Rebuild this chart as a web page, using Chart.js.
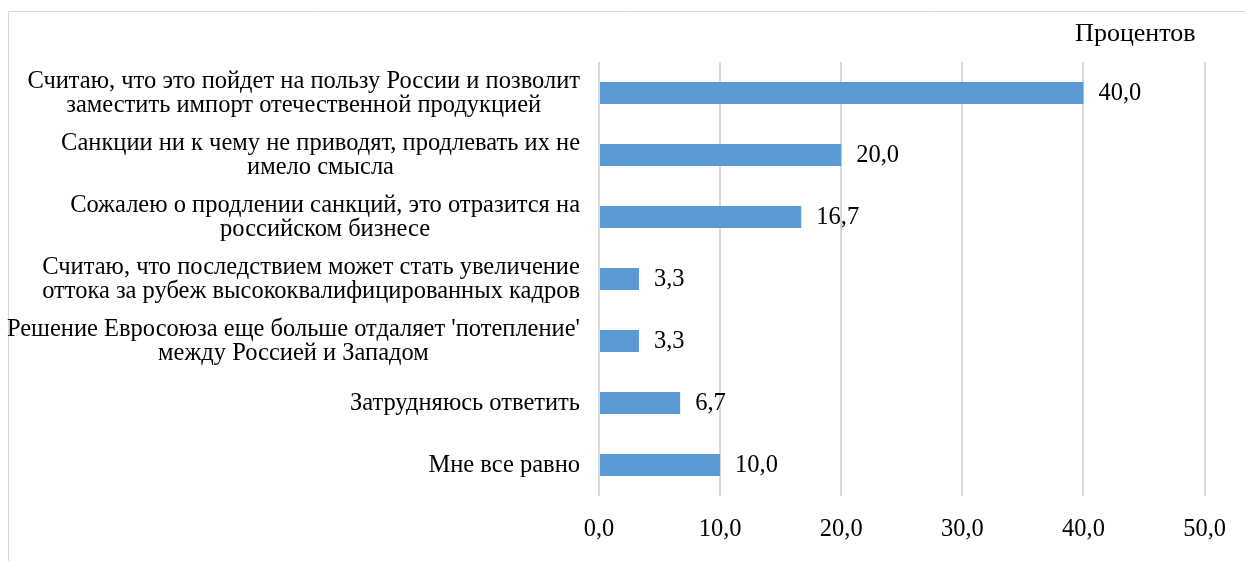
<!DOCTYPE html>
<html>
<head>
<meta charset="utf-8">
<script src="https://cdn.jsdelivr.net/npm/chart.js@4/dist/chart.umd.min.js"></script>
<style>
  html, body { margin: 0; padding: 0; background: #fff; }
  #wrap { width: 1245px; height: 561px; }
</style>
</head>
<body>
<div id="wrap"><canvas id="chart" width="1245" height="561"></canvas></div>
<script>
// подписи категорий (каждая строка отдельно, как в исходнике)
const categories = [
  ['Считаю, что это пойдет на пользу России и позволит', 'заместить импорт отечественной продукцией'],
  ['Санкции ни к чему не приводят, продлевать их не', 'имело смысла'],
  ['Сожалею о продлении санкций, это отразится на', 'российском бизнесе'],
  ['Считаю, что последствием может стать увеличение', 'оттока за рубеж высококвалифицированных кадров'],
  ["Решение Евросоюза еще больше отдаляет 'потепление'", 'между Россией и Западом'],
  ['Затрудняюсь ответить'],
  ['Мне все равно']
];
const percents = [40.0, 20.0, 16.7, 3.3, 3.3, 6.7, 10.0];
const xTicks = [0, 10, 20, 30, 40, 50];
const unitLabel = 'Процентов';

const FONT = '"Liberation Serif", "Times New Roman", serif';
const fmt = v => v.toFixed(1).replace('.', ',');

// рамка вокруг диаграммы + подпись единиц измерения
const framePlugin = {
  id: 'frame',
  beforeDraw(chart) {
    const ctx = chart.ctx;
    ctx.save();
    ctx.strokeStyle = '#d9d9d9';
    ctx.lineWidth = 1;
    ctx.beginPath();
    ctx.moveTo(8.5, chart.height);
    ctx.lineTo(8.5, 11.5);
    ctx.lineTo(chart.width, 11.5);
    ctx.stroke();

    ctx.font = '26px ' + FONT;
    ctx.fillStyle = '#000';
    ctx.textAlign = 'right';
    ctx.textBaseline = 'middle';
    ctx.fillText(unitLabel, chart.chartArea.right - 9, 34);
    ctx.restore();
  }
};

// подписи категорий: блок выровнен вправо, строки по центру блока
const categoryLabels = {
  id: 'categoryLabels',
  afterDraw(chart) {
    const ctx = chart.ctx;
    const yScale = chart.scales.y;
    const right = chart.chartArea.left - 19;
    const lineH = 24;
    ctx.save();
    ctx.font = '24.5px ' + FONT;
    ctx.fillStyle = '#000';
    ctx.textBaseline = 'middle';
    ctx.textAlign = 'center';
    categories.forEach((lines, i) => {
      const y = yScale.getPixelForValue(i);
      const w = Math.max(...lines.map(l => ctx.measureText(l).width));
      const cx = right - w / 2;
      const y0 = y - (lines.length - 1) * lineH / 2;
      lines.forEach((l, k) => ctx.fillText(l, cx, y0 + k * lineH + 0.5));
    });
    ctx.restore();
  }
};

// значения справа от столбцов
const valueLabels = {
  id: 'valueLabels',
  afterDatasetsDraw(chart) {
    const ctx = chart.ctx;
    const meta = chart.getDatasetMeta(0);
    ctx.save();
    ctx.font = '24.5px ' + FONT;
    ctx.fillStyle = '#000';
    ctx.textBaseline = 'middle';
    ctx.textAlign = 'left';
    meta.data.forEach((bar, i) => {
      ctx.fillText(fmt(percents[i]), bar.x + 15, bar.y + 1);
    });
    ctx.restore();
  }
};

new Chart(document.getElementById('chart'), {
  type: 'bar',
  data: {
    labels: categories.map(c => c.join(' ')),
    datasets: [{
      data: percents,
      backgroundColor: '#5b9bd5',
      barPercentage: 1.0,
      categoryPercentage: 0.355
    }]
  },
  options: {
    indexAxis: 'y',
    responsive: false,
    animation: false,
    layout: { padding: { left: 599, right: 38, top: 62, bottom: 0 } },
    scales: {
      x: {
        min: 0,
        max: 50,
        afterBuildTicks: s => { s.ticks = xTicks.map(v => ({ value: v })); },
        afterFit: s => { s.height = 65; },
        grid: { color: '#d9d9d9', lineWidth: 2, drawTicks: false },
        border: { display: false },
        ticks: {
          padding: 19,
          color: '#000',
          font: { family: FONT, size: 24.5 },
          callback: v => fmt(v)
        }
      },
      y: {
        display: false
      }
    },
    plugins: {
      legend: { display: false },
      tooltip: { enabled: false },
      title: { display: false }
    }
  },
  plugins: [framePlugin, categoryLabels, valueLabels]
});
</script>
</body>
</html>
